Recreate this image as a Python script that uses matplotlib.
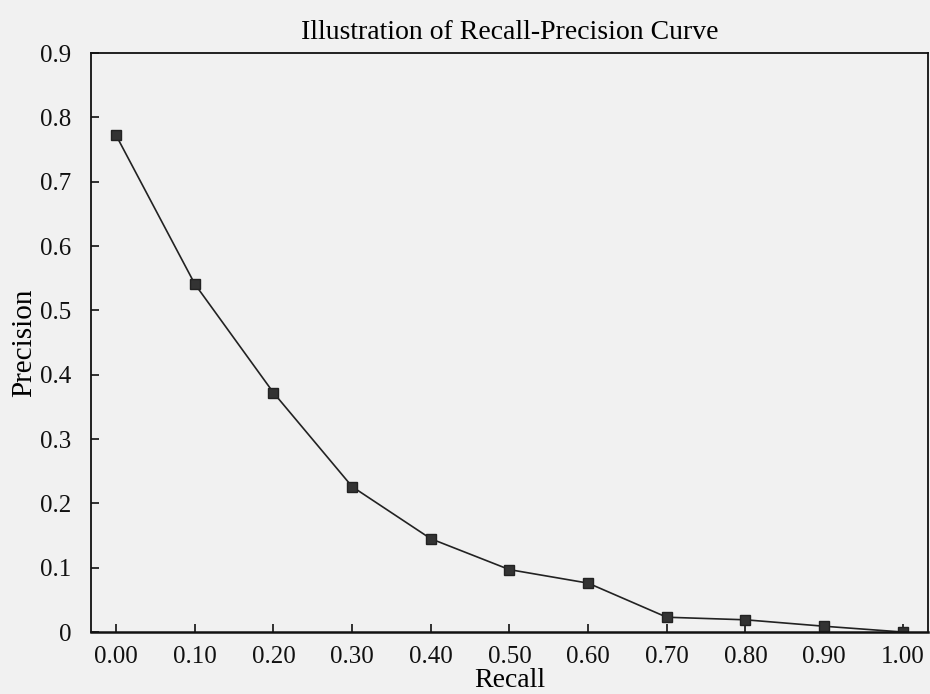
import matplotlib
matplotlib.use("Agg")
import matplotlib.pyplot as plt

recall = [0.0, 0.1, 0.2, 0.3, 0.4, 0.5, 0.6, 0.7, 0.8, 0.9, 1.0]
precision = [0.772, 0.541, 0.372, 0.226, 0.145, 0.097, 0.076, 0.023, 0.019, 0.009, 0.0]
xtick_labels = ["0.00", "0.10", "0.20", "0.30", "0.40", "0.50", "0.60", "0.70", "0.80", "0.90", "1.00"]
ytick_vals = [0, 0.1, 0.2, 0.3, 0.4, 0.5, 0.6, 0.7, 0.8, 0.9]
ytick_labels = ["0", "0.1", "0.2", "0.3", "0.4", "0.5", "0.6", "0.7", "0.8", "0.9"]

plt.rcParams['font.family'] = ['Liberation Serif', 'DejaVu Serif']
bg = "#f1f1f1"
fig = plt.figure(figsize=(9.3, 6.94), dpi=100, facecolor=bg)
ax = fig.add_axes([0.0978, 0.0893, 0.9, 0.8343], facecolor=bg)

ax.plot(recall, precision, color="#222222", lw=1.2, marker="s", ms=6.5,
        markerfacecolor="#333333", markeredgecolor="#222222")

ax.set_xlim(-0.032, 1.032)
ax.set_ylim(0, 0.9)
ax.set_xticks(recall)
ax.set_xticklabels(xtick_labels)
ax.set_yticks(ytick_vals)
ax.set_yticklabels(ytick_labels)
ax.tick_params(axis="both", direction="in", length=6, width=1.2, labelsize=18, colors="#111111")
ax.tick_params(axis="x", pad=10)
ax.tick_params(axis="y", pad=14)
for s in ax.spines.values():
    s.set_color("#111111")
ax.spines["bottom"].set_linewidth(1.8)
ax.spines["left"].set_linewidth(1.3)
ax.spines["top"].set_linewidth(1.3)
ax.spines["right"].set_linewidth(1.3)

ax.set_xlabel("Recall", fontsize=20, labelpad=0)
ax.set_ylabel("Precision", fontsize=21, labelpad=2)
ax.set_title("Illustration of Recall-Precision Curve", fontsize=20, pad=10)

fig.savefig("out.png", dpi=100, facecolor=bg)
